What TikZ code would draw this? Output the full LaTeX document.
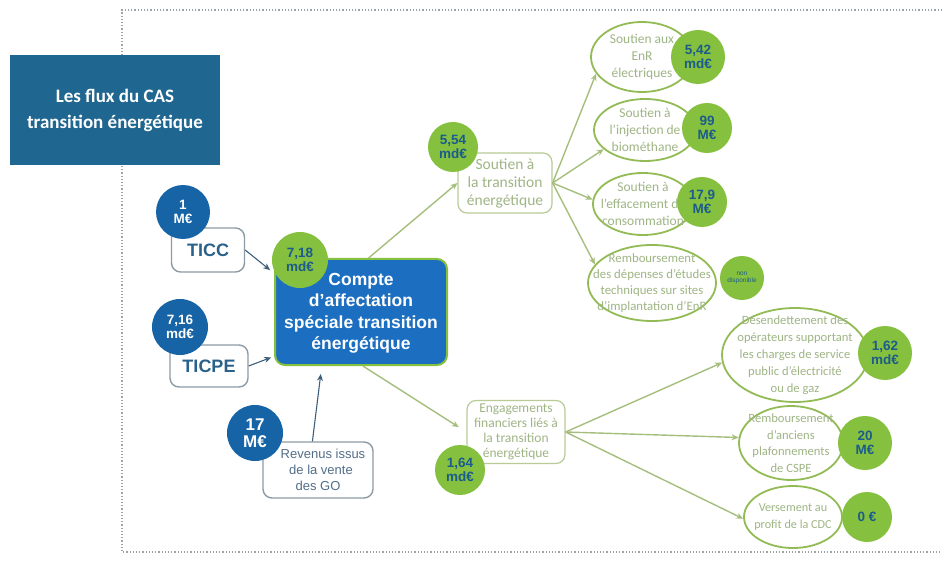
\documentclass[tikz,border=0pt]{standalone}
\usepackage{fontspec}
\setmainfont{Carlito}
\newfontfamily\arialf{Liberation Sans}
\usetikzlibrary{arrows.meta,shapes.geometric}
\definecolor{titleblue}{HTML}{1F6690}
\definecolor{dotblue}{HTML}{1664A6}
\definecolor{casblue}{HTML}{1C6FC0}
\definecolor{lime}{HTML}{86C03F}
\definecolor{ellgreen}{HTML}{93BB55}
\definecolor{paletext}{HTML}{9FB585}
\definecolor{arrgreen}{HTML}{A6BE7C}
\definecolor{arrdark}{HTML}{3F5E7C}
\definecolor{numblue}{HTML}{1B5C8C}
\definecolor{boxgray}{HTML}{8D9BA4}
\definecolor{framegray}{HTML}{9AA3AA}
\begin{document}
\begin{tikzpicture}[x=1pt,y=-1pt,
  bluedot/.style={circle,fill=dotblue,text=white,inner sep=0pt,minimum size=#1,
    font=\arialf\bfseries\fontsize{13.5}{14}\selectfont,align=center},
  greendot/.style={circle,fill=lime,text=numblue,inner sep=0pt,minimum size=#1,
    font=\arialf\bfseries\fontsize{13.5}{14}\selectfont,align=center},
  srcbox/.style={draw=boxgray,line width=1.4pt,rounded corners=9pt,fill=white,
    inner sep=0pt,align=center},
  palebox/.style={draw=arrgreen!80,line width=1.2pt,rounded corners=9pt,fill=white,
    inner sep=0pt,align=center,text=paletext},
  % the size of each ellipse is fixed by its minimum width/height; the text may overflow
  usebox/.style={ellipse,draw=ellgreen,line width=1.8pt,fill=white,inner sep=-22pt,
    align=center,text=paletext,font=\fontsize{13.5}{17}\selectfont},
  inarrow/.style={draw=arrdark,line width=1.1pt,-{Stealth[length=7pt,width=6pt]}},
  outarrow/.style={draw=arrgreen,line width=1.4pt,-{Stealth[length=7pt,width=6pt]}},
  frameline/.style={draw=framegray,line width=1.2pt,dotted}
]
\useasboundingbox (0,0) rectangle (942,561);

% dotted frame
\draw[frameline] (942,10) -- (122,10) -- (122,552) -- (942,552);

% title
\node[fill=titleblue,text=white,minimum width=210pt,minimum height=110pt,inner sep=0pt,
  align=center,font=\bfseries\fontsize{19}{26}\selectfont] (title) at (115,110)
  {Les flux du CAS\\transition énergétique};

% central account
\node[rounded corners=10pt,fill=casblue,draw=lime,line width=2pt,text=white,
  minimum width=172pt,minimum height=106pt,inner sep=0pt,align=center,
  font=\arialf\bfseries\fontsize{17.5}{21.5}\selectfont] (cas) at (361,312)
  {\strut Compte\\d’affectation\\spéciale transition\\énergétique};

% sources
\node[srcbox,minimum width=73pt,minimum height=44pt,text=numblue!85!gray,
  font=\arialf\bfseries\fontsize{18}{20}\selectfont] (ticc) at (208,250) {TICC};
\node[bluedot=54pt] (vticc) at (183,212) {1\\M€};

\node[srcbox,minimum width=78pt,minimum height=42pt,text=numblue!85!gray,
  font=\arialf\bfseries\fontsize{18}{20}\selectfont] (ticpe) at (209,366) {TICPE};
\node[bluedot=56pt] (vticpe) at (180,327) {7,16\\md€};

\node[srcbox,minimum width=110pt,minimum height=56pt,text=arrdark!90,
  font=\arialf\fontsize{13}{16}\selectfont] (rev) at (318,470)
  {\hspace*{10pt}Revenus issus\\\hspace*{6pt}de la vente\\des GO};
\node[bluedot=56pt,font=\arialf\bfseries\fontsize{17}{17}\selectfont] (vrev) at (255,433) {17\\M€};

\node[greendot=56pt] (vcas) at (300,260) {7,18\\md€};

% first-level uses
\node[palebox,minimum width=94pt,minimum height=60pt,font=\fontsize{15.5}{18}\selectfont] (sout) at (505,183)
  {Soutien à\\la transition\\énergétique};
\node[greendot=50pt] (vsout) at (453,147) {5,54\\md€};

\node[palebox,minimum width=98pt,minimum height=63pt,font=\fontsize{13.5}{15}\selectfont] (eng) at (516,432)
  {Engagements\\financiers liés à\\la transition\\énergétique};
\node[greendot=50pt] (veng) at (460,470) {1,64\\md€};

% second-level uses
\node[usebox,minimum width=102pt,minimum height=70pt] (e1) at (642,57)
  {Soutien aux\\EnR\\électriques};
\node[greendot=54pt] (v1) at (698,57) {5,42\\md€};

\node[usebox,minimum width=102pt,minimum height=62pt] (e2) at (645,130)
  {Soutien à\\l’injection de\\biométhane};
\node[greendot=50pt] (v2) at (707,128) {99\\M€};

\node[usebox,minimum width=100pt,minimum height=62pt] (e3) at (643,204)
  {Soutien à\\l’effacement de\\consommation};
\node[greendot=50pt] (v3) at (702,202) {17,9\\M€};

\node[usebox,minimum width=128pt,minimum height=76pt,font=\fontsize{12.8}{16}\selectfont] (e4) at (652,283)
  {Remboursement\\des dépenses d’études\\techniques sur sites\\d’implantation d’EnR};
\node[greendot=44pt,font=\arialf\fontsize{6.5}{7.5}\selectfont] (v4) at (742,278) {non\\disponible};

\node[usebox,minimum width=146pt,minimum height=94pt,font=\fontsize{12.6}{17}\selectfont] (f1) at (795,355)
  {Désendettement des\\opérateurs supportant\\les charges de service\\public d’électricité\\ou de gaz};
\node[greendot=54pt] (w1) at (885,353) {1,62\\md€};

\node[usebox,minimum width=104pt,minimum height=74pt,font=\fontsize{12.6}{16.5}\selectfont] (f2) at (791,443)
  {Remboursement\\d’anciens\\plafonnements\\de CSPE};
\node[greendot=54pt] (w2) at (865,443) {20\\M€};

\node[usebox,minimum width=98pt,minimum height=62pt,font=\fontsize{12.2}{16.5}\selectfont] (f3) at (793,517)
  {Versement au\\profit de la CDC};
\node[greendot=50pt] (w3) at (867,517) {0 €};

% incoming flows
\draw[inarrow,shorten >=5pt] (ticc.east) -- (cas.156);
\draw[inarrow,shorten >=3pt] (ticpe.east) -- (cas.207);
\draw[inarrow,shorten >=8pt] (rev.101) -- (cas.234);

% outgoing flows
\draw[outarrow] (cas.82) -- (sout.west);
\draw[outarrow,shorten >=9pt] (cas.272) -- (eng.west);

\draw[outarrow] (sout.east) -- (e1.200);
\draw[outarrow] (sout.east) -- (e2.205);
\draw[outarrow] (sout.east) -- (e3.175);
\draw[outarrow] (sout.east) -- (e4.162);

\draw[outarrow] (eng.east) -- (f1.186);
\draw[outarrow] (eng.east) -- (f2.174);
\draw[outarrow] (eng.east) -- (f3.182);
\end{tikzpicture}
\end{document}
